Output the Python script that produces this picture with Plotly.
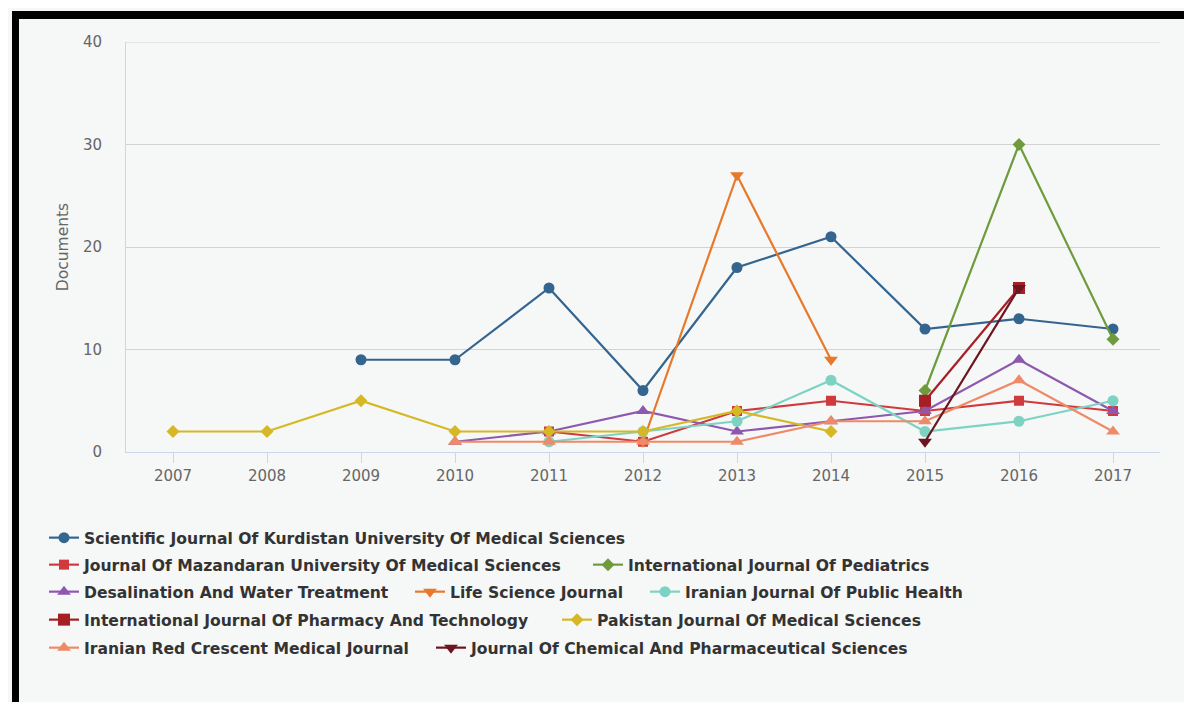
import plotly.graph_objects as go

years = [2007, 2008, 2009, 2010, 2011, 2012, 2013, 2014, 2015, 2016, 2017]

names = [
    "Scientific Journal Of Kurdistan University Of Medical Sciences",
    "Journal Of Mazandaran University Of Medical Sciences",
    "International Journal Of Pediatrics",
    "Desalination And Water Treatment",
    "Life Science Journal",
    "Iranian Journal Of Public Health",
    "International Journal Of Pharmacy And Technology",
    "Pakistan Journal Of Medical Sciences",
    "Iranian Red Crescent Medical Journal",
    "Journal Of Chemical And Pharmaceutical Sciences",
]

N = None
kurdistan    = [N, N, 9, 9, 16, 6, 18, 21, 12, 13, 12]
mazandaran   = [N, N, N, N, 2, 1, 4, 5, 4, 5, 4]
pediatrics   = [N, N, N, N, N, N, N, N, 6, 30, 11]
desalination = [N, N, N, 1, 2, 4, 2, 3, 4, 9, 4]
life_science = [N, N, N, N, N, 1, 27, 9, N, N, N]
public_health= [N, N, N, N, 1, 2, 3, 7, 2, 3, 5]
pharmacy     = [N, N, N, N, N, N, N, N, 5, 16, N]
pakistan     = [2, 2, 5, 2, 2, 2, 4, 2, N, N, N]
red_crescent = [N, N, N, 1, 1, 1, 1, 3, 3, 7, 2]
chemical     = [N, N, N, N, N, N, N, N, 1, 16, N]

series = [kurdistan, mazandaran, pediatrics, desalination, life_science,
          public_health, pharmacy, pakistan, red_crescent, chemical]

colors = ["#34658f", "#d0393e", "#6e9c3d", "#8e58ae", "#e8782a",
          "#7dd3c3", "#a61f24", "#d6b825", "#ee8a68", "#6a1520"]
symbols = ["circle", "square", "diamond", "triangle-up", "triangle-down",
           "circle", "square", "diamond", "triangle-up", "triangle-down"]
sizes = [11, 10, 10, 12, 12, 11, 12, 10, 12, 12]

# page body has an 8px margin: the figure is drawn at (8, 8) in the window
OFF = 8
W, H = 1192 - OFF, 702 - OFF

# legend layout (window pixel positions of the legend text start and row centre)
leg_text_x = [84, 84, 628, 84, 450, 685, 84, 597, 84, 471]
leg_row_y = [538, 565, 565, 592, 592, 592, 620, 620, 648, 648]

# plot-area geometry (window pixels)
L, R, T, B = 126, 1160, 42, 452
pw, ph = R - L, B - T

def px_x(x):
    return (x - L) / pw

def px_y(y):
    return (B - y) / ph

LEG_FONT = dict(family="DejaVu Sans", size=15.6, color="#333333", weight="bold")
TICK_FONT = dict(family="DejaVu Sans", size=15, color="#666666")

fig = go.Figure()
layout_legends = {}
for i, (nm, vals) in enumerate(zip(names, series)):
    lname = "legend" if i == 0 else f"legend{i + 1}"
    fig.add_trace(go.Scatter(
        x=years, y=vals, name=nm, mode="lines+markers",
        line=dict(color=colors[i], width=2.2),
        marker=dict(color=colors[i], symbol=symbols[i], size=sizes[i]),
        connectgaps=False, legend=lname,
    ))
    layout_legends[lname] = dict(
        x=px_x(leg_text_x[i] - 40), y=px_y(leg_row_y[i]),
        xanchor="left", yanchor="middle", orientation="h",
        bgcolor="rgba(0,0,0,0)", borderwidth=0,
        font=LEG_FONT,
        itemclick=False, itemdoubleclick=False,
    )

fig.update_layout(
    width=W, height=H,
    margin=dict(l=L - OFF, r=(W + OFF) - R, t=T - OFF, b=(H + OFF) - B),
    paper_bgcolor="#f6f7f7", plot_bgcolor="#f6f7f7",
    showlegend=True,
    **layout_legends,
)

fig.update_xaxes(
    range=[2006.5, 2017.5], tickmode="array", tickvals=years,
    ticktext=[str(y) for y in years],
    showgrid=False, zeroline=False,
    showline=True, linecolor="#ccd6eb", linewidth=1,
    ticks="outside", ticklen=10, tickcolor="#ccd6eb",
    tickfont=TICK_FONT,
)
fig.update_yaxes(
    range=[0, 40], tickvals=[0, 10, 20, 30, 40],
    showgrid=True, gridcolor="#d3d3d3", gridwidth=1, zeroline=False,
    showline=True, linecolor="#ccd6eb", linewidth=1,
    ticks="outside", ticklen=20, tickcolor="rgba(0,0,0,0)",
    tickfont=TICK_FONT,
    title=dict(text="Documents", font=dict(family="DejaVu Sans", size=15.5, color="#666666"), standoff=10),
)

# top gridline at 40
fig.add_shape(type="line", xref="paper", yref="y", x0=0, x1=1, y0=40, y1=40,
              line=dict(color="#d3d3d3", width=1), layer="below")

# black frame strips of the screenshot (top and left)
fig.add_shape(type="rect", xref="paper", yref="paper",
              x0=px_x(12), x1=px_x(1200), y0=px_y(19), y1=px_y(11),
              fillcolor="#000000", line=dict(width=0), layer="above")
fig.add_shape(type="rect", xref="paper", yref="paper",
              x0=px_x(12), x1=px_x(19), y0=px_y(710), y1=px_y(11),
              fillcolor="#000000", line=dict(width=0), layer="above")

fig.write_html("out.html")
